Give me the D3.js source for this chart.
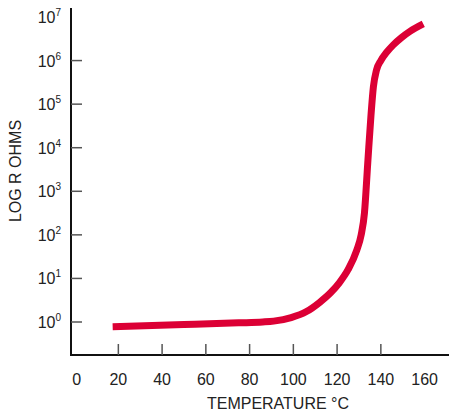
<!DOCTYPE html>
<html lang="en">
<head>
<meta charset="UTF-8">
<title>Log R vs Temperature</title>
<script src="https://d3js.org/d3.v7.min.js"></script>
<style>
  body { margin: 0; background: #fff; }
  text { font-family: "Liberation Sans Narrow", "Arial Narrow", "Liberation Sans", Arial, sans-serif; fill: #222; }
</style>
</head>
<body>
<div id="chart"></div>
<script>
// temperature (°C) and log10 of resistance
const temps = [17.4, 50, 75, 86, 91, 99, 106, 112, 117, 121, 125, 129, 131, 132.5, 134.1, 135.5, 136.6, 138, 140, 142.5, 145.7, 149.5, 153.3, 159.4];
const logR  = [-0.11, -0.06, -0.02, 0.0, 0.02, 0.1, 0.24, 0.45, 0.67, 0.9, 1.2, 1.65, 2.0, 2.5, 3.72, 4.75, 5.4, 5.78, 6.0, 6.18, 6.36, 6.53, 6.67, 6.84];

const xTicks = [20, 40, 60, 80, 100, 120, 140];
const xTickLabels = [0, 20, 40, 60, 80, 100, 120, 140, 160];
const yTicks = [0, 1, 2, 3, 4, 5, 6];
const yTickLabels = [0, 1, 2, 3, 4, 5, 6, 7];

const width = 449, height = 413;

const svg = d3.select("#chart").append("svg")
  .attr("width", width)
  .attr("height", height);

const x = d3.scaleLinear().domain([0, 160]).range([74.6, 424.6]);
const y = d3.scaleLinear().domain([0, 7]).range([322, 17]);

const axisX = 71, axisY = 355, axisTop = 8;

// axes lines
svg.append("line")
  .attr("x1", axisX).attr("x2", axisX)
  .attr("y1", axisTop).attr("y2", axisY + 1)
  .attr("stroke", "#111").attr("stroke-width", 2);
svg.append("line")
  .attr("x1", axisX - 1).attr("x2", width)
  .attr("y1", axisY).attr("y2", axisY)
  .attr("stroke", "#111").attr("stroke-width", 2);

// inward ticks
svg.selectAll(".ytick").data(yTicks).enter().append("line")
  .attr("x1", axisX).attr("x2", axisX + 11)
  .attr("y1", d => y(d)).attr("y2", d => y(d))
  .attr("stroke", "#555").attr("stroke-width", 1.5);
svg.selectAll(".xtick").data(xTicks).enter().append("line")
  .attr("x1", d => x(d)).attr("x2", d => x(d))
  .attr("y1", axisY).attr("y2", axisY - 11)
  .attr("stroke", "#555").attr("stroke-width", 1.5);

// y tick labels 10^n
const yl = svg.selectAll(".ylab").data(yTickLabels).enter().append("text")
  .attr("x", 61)
  .attr("y", d => y(d) + 6)
  .attr("text-anchor", "end")
  .attr("font-size", 16);
yl.append("tspan").text("10");
yl.append("tspan").text(d => d)
  .attr("font-size", 10)
  .attr("dy", -7);

// x tick labels
svg.selectAll(".xlab").data(xTickLabels).enter().append("text")
  .attr("x", d => x(d) + (d === 0 ? 2 : 0))
  .attr("y", 385)
  .attr("text-anchor", "middle")
  .attr("font-size", 16)
  .text(d => d);

// axis titles
svg.append("text")
  .attr("transform", "translate(21,171) rotate(-90)")
  .attr("text-anchor", "middle")
  .attr("font-size", 16)
  .text("LOG R OHMS");
svg.append("text")
  .attr("x", 278).attr("y", 409)
  .attr("text-anchor", "middle")
  .attr("font-size", 16)
  .text("TEMPERATURE °C");

// curve
const line = d3.line()
  .x((d, i) => x(temps[i]))
  .y(d => y(d))
  .curve(d3.curveMonotoneX);

svg.append("path")
  .datum(logR)
  .attr("d", line)
  .attr("fill", "none")
  .attr("stroke", "#dc0035")
  .attr("stroke-width", 7);
</script>
</body>
</html>
